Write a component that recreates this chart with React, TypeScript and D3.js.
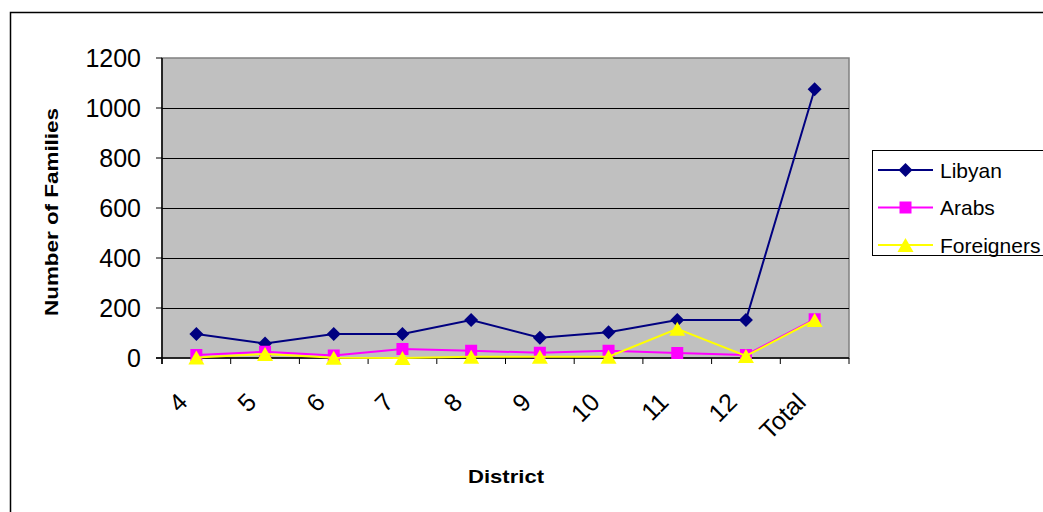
import * as d3 from 'd3'

const districts = ['4', '5', '6', '7', '8', '9', '10', '11', '12', 'Total']
const libyan = [96, 58, 96, 96, 152, 81, 103, 152, 152, 1075]
const arabs = [12, 25, 10, 36, 29, 21, 29, 20, 12, 155]
const foreigners = [2, 16, 1, 0, 5, 5, 5, 117, 8, 152]
const yTicks = [0, 200, 400, 600, 800, 1000, 1200]

const series = [
  { name: 'Libyan', values: libyan, color: '#000080', marker: 'diamond' },
  { name: 'Arabs', values: arabs, color: '#FF00FF', marker: 'square' },
  { name: 'Foreigners', values: foreigners, color: '#FFFF00', marker: 'triangle' },
]

const W = 1043
const H = 512
const plot = { left: 162, right: 849, top: 58, bottom: 358 }
const font = '"Liberation Sans", Arial, sans-serif'

function Marker({ type, x, y, color }: { type: string; x: number; y: number; color: string }) {
  if (type === 'diamond') {
    const s = 7
    return <path d={`M${x},${y - s}L${x + s},${y}L${x},${y + s}L${x - s},${y}Z`} fill={color} />
  }
  if (type === 'square') {
    const s = 6
    return <rect x={x - s} y={y - s} width={s * 2} height={s * 2} fill={color} />
  }
  const s = 7
  return <path d={`M${x},${y - s}L${x + s + 1},${y + s}L${x - s - 1},${y + s}Z`} fill={color} />
}

export default function App() {
  const x = d3.scaleBand().domain(districts).range([plot.left, plot.right]).padding(0)
  const y = d3.scaleLinear().domain([0, 1200]).range([plot.bottom, plot.top])
  const cx = (d: string) => (x(d) as number) + x.bandwidth() / 2
  const line = d3
    .line<number>()
    .x((_, i) => cx(districts[i]))
    .y((v) => y(v))

  const boundaries = districts.map((d) => x(d) as number).concat([plot.right])

  return (
    <svg
      width={W}
      height={H}
      style={{ position: 'absolute', left: 0, top: 0, background: '#fff' }}
      fontFamily={font}
    >
      <rect x={10.5} y={12.5} width={1040} height={510} fill="#fff" stroke="#000" strokeWidth={1.5} />

      {/* plot area */}
      <rect
        x={plot.left}
        y={plot.top}
        width={plot.right - plot.left}
        height={plot.bottom - plot.top}
        fill="#C0C0C0"
        stroke="#808080"
        strokeWidth={1.5}
      />
      {yTicks
        .filter((t) => t > 0 && t < 1200)
        .map((t) => (
          <line key={t} x1={plot.left} x2={plot.right} y1={y(t) + 0.5} y2={y(t) + 0.5} stroke="#000" strokeWidth={1} />
        ))}

      {/* axes */}
      <line x1={plot.left} x2={plot.left} y1={plot.top} y2={plot.bottom + 6} stroke="#000" strokeWidth={1.5} />
      <line x1={plot.left - 6} x2={plot.right} y1={plot.bottom} y2={plot.bottom} stroke="#000" strokeWidth={1.5} />
      {yTicks.map((t) => (
        <g key={t}>
          <line x1={plot.left - 6} x2={plot.left} y1={y(t)} y2={y(t)} stroke="#000" strokeWidth={1} />
          <text x={plot.left - 21} y={y(t)} dy="0.36em" textAnchor="end" fontSize={25} fill="#000">
            {t}
          </text>
        </g>
      ))}
      {boundaries.map((b, i) => (
        <line key={i} x1={b} x2={b} y1={plot.bottom} y2={plot.bottom + 6} stroke="#000" strokeWidth={1} />
      ))}
      {districts.map((d) => (
        <text
          key={d}
          transform={`translate(${cx(d) - 20},${plot.bottom + 33}) rotate(-45)`}
          textAnchor="end"
          dy="0.72em"
          fontSize={25}
          fill="#000"
        >
          {d}
        </text>
      ))}

      {/* titles */}
      <text
        transform={`translate(58,${(plot.top + plot.bottom) / 2 + 4}) rotate(-90)`}
        textAnchor="middle"
        fontSize={18}
        fontWeight="bold"
        textLength={208}
        lengthAdjust="spacingAndGlyphs"
        fill="#000"
      >
        Number of Families
      </text>
      <text
        x={506}
        y={483}
        textAnchor="middle"
        fontSize={18}
        fontWeight="bold"
        textLength={76}
        lengthAdjust="spacingAndGlyphs"
        fill="#000"
      >
        District
      </text>

      {/* series */}
      {series.map((s) => (
        <g key={s.name}>
          <path d={line(s.values) || ''} fill="none" stroke={s.color} strokeWidth={2} />
          {s.values.map((v, i) => (
            <Marker key={i} type={s.marker} x={cx(districts[i])} y={y(v)} color={s.color} />
          ))}
        </g>
      ))}

      {/* legend */}
      <rect x={872.5} y={150.5} width={180} height={105} fill="#fff" stroke="#000" strokeWidth={1} />
      {series.map((s, i) => {
        const ly = 170 + i * 37.5
        return (
          <g key={s.name}>
            <line x1={878} x2={933} y1={ly} y2={ly} stroke={s.color} strokeWidth={2} />
            <Marker type={s.marker} x={905.5} y={ly} color={s.color} />
            <text x={940} y={ly} dy="0.36em" fontSize={21} fill="#000">
              {s.name}
            </text>
          </g>
        )
      })}
    </svg>
  )
}
